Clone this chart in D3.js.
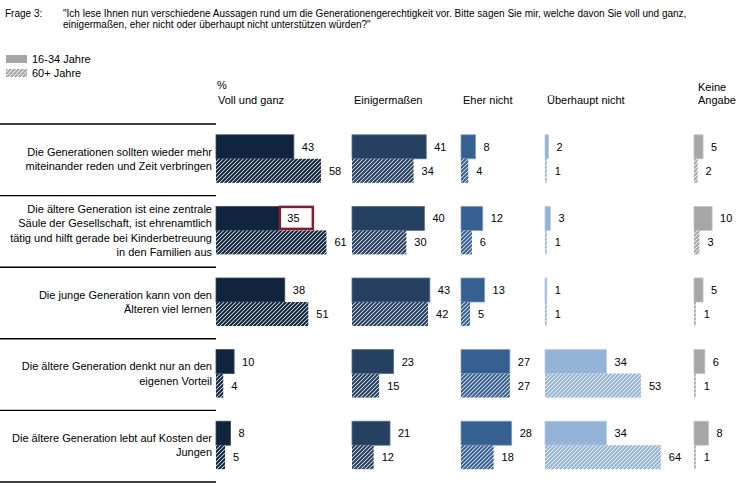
<!DOCTYPE html>
<html><head><meta charset="utf-8">
<script src="https://cdn.jsdelivr.net/npm/d3@7"></script>
<style>body{margin:0;background:#fff}svg{display:block}text{font-family:"Liberation Sans",Arial,sans-serif;fill:#000}</style>
</head><body><svg id="c" width="743" height="487"></svg>
<script>
const questionLabel = "Frage 3:";
const questionLines = ["\"Ich lese Ihnen nun verschiedene Aussagen rund um die Generationengerechtigkeit vor. Bitte sagen Sie mir, welche davon Sie voll und ganz,",
  "einigermaßen, eher nicht oder überhaupt nicht unterstützen würden?\""];
const seriesNames = ["16-34 Jahre", "60+ Jahre"];
const categories = ["Voll und ganz", "Einigermaßen", "Eher nicht", "Überhaupt nicht", "Keine Angabe"];
const statements = [
  ["Die Generationen sollten wieder mehr", "miteinander reden und Zeit verbringen"],
  ["Die ältere Generation ist eine zentrale", "Säule der Gesellschaft, ist ehrenamtlich", "tätig und hilft gerade bei Kinderbetreuung", "in den Familien aus"],
  ["Die junge Generation kann von den", "Älteren viel lernen"],
  ["Die ältere Generation denkt nur an den", "eigenen Vorteil"],
  ["Die ältere Generation lebt auf Kosten der", "Jungen"]
];
const young = [
  [43, 41, 8, 2, 5],
  [35, 40, 12, 3, 10],
  [38, 43, 13, 1, 5],
  [10, 23, 27, 34, 6],
  [8, 21, 28, 34, 8]
];
const old = [
  [58, 34, 4, 1, 2],
  [61, 30, 6, 1, 3],
  [51, 42, 5, 1, 1],
  [4, 15, 27, 53, 1],
  [5, 12, 18, 64, 1]
];
const highlighted = {row: 1, col: 0};

const colors = ["#10243E", "#254061", "#376092", "#95B3D7", "#A6A6A6"];
const strokes = ["#3a4a66", "#5a6f8e", "#7f9cc4", "#b8cce6", "#c4c4c4"];
const colX = [216, 352, 461, 545, 694];

const svg = d3.select("#c");
const defs = svg.append("defs");
colors.concat(["#A6A6A6"]).forEach((c, i) => {
  const p = defs.append("pattern").attr("id", "h" + i).attr("patternUnits", "userSpaceOnUse")
    .attr("width", 4).attr("height", 4);
  p.append("rect").attr("width", 4).attr("height", 4).attr("fill", "#fff");
  p.append("path").attr("d", "M-1,1 l2,-2 M0,4 l4,-4 M3,5 l2,-2")
    .attr("stroke", c).attr("stroke-width", 2.1);
});

// header
svg.append("text").attr("x", 5).attr("y", 17).attr("font-size", 10).text(questionLabel);
questionLines.forEach((l, i) => svg.append("text").attr("x", 63).attr("y", 17 + i * 10.5).attr("font-size", 10).text(l));

// legend
svg.append("rect").attr("x", 6).attr("y", 55).attr("width", 21).attr("height", 8).attr("fill", "#A6A6A6");
svg.append("rect").attr("x", 6).attr("y", 69).attr("width", 21).attr("height", 8).attr("fill", "url(#h5)");
svg.append("text").attr("x", 32).attr("y", 63).attr("font-size", 11).text(seriesNames[0]);
svg.append("text").attr("x", 32).attr("y", 77).attr("font-size", 11).text(seriesNames[1]);

// column headers
svg.append("text").attr("x", colX[0] + 1).attr("y", 89).attr("font-size", 11).text("%");
categories.forEach((c, i) => {
  if (i === 4) {
    svg.append("text").attr("x", colX[i] + 4).attr("y", 91).attr("font-size", 11).text("Keine");
    svg.append("text").attr("x", colX[i] + 4).attr("y", 104).attr("font-size", 11).text("Angabe");
  } else {
    svg.append("text").attr("x", colX[i] + 2).attr("y", 104).attr("font-size", 11).text(c);
  }
});

const y = d3.scaleBand().domain(d3.range(statements.length)).range([124, 482]).paddingInner(0);
const x = d3.scaleLinear().domain([0, 100]).range([0, 181]);
const barH = 24;

// separators
d3.range(statements.length + 1).forEach(i => {
  const yy = i < statements.length ? y(i) : y.range()[1];
  svg.append("line").attr("x1", 0).attr("x2", 216).attr("y1", yy).attr("y2", yy)
    .attr("stroke", "#000").attr("stroke-width", 1.4);
});

statements.forEach((lines, r) => {
  const cy = y(r) + y.bandwidth() / 2 - 1;
  const lh = 14.3;
  lines.forEach((l, k) => {
    svg.append("text").attr("x", 212).attr("y", cy + (k - (lines.length - 1) / 2) * lh + 4)
      .attr("text-anchor", "end").attr("font-size", 11).text(l);
  });
  categories.forEach((c, j) => {
    const g = svg.append("g").attr("transform", `translate(${colX[j]},0)`);
    const v1 = young[r][j], v2 = old[r][j];
    g.append("rect").attr("x", 0).attr("y", cy - barH).attr("width", x(v1)).attr("height", barH)
      .attr("fill", colors[j]).attr("stroke", strokes[j]).attr("stroke-width", 0.8);
    g.append("rect").attr("x", 0).attr("y", cy).attr("width", x(v2)).attr("height", barH)
      .attr("fill", `url(#h${j})`);
    g.append("text").attr("x", x(v1) + 8).attr("y", cy - barH / 2 + 4).attr("font-size", 11).text(v1);
    g.append("text").attr("x", x(v2) + 8).attr("y", cy + barH / 2 + 4).attr("font-size", 11).text(v2);
    if (r === highlighted.row && j === highlighted.col) {
      g.append("rect").attr("x", x(v1) + 0.5).attr("y", cy - barH + 0.5).attr("width", 33).attr("height", barH - 2)
        .attr("fill", "none").attr("stroke", "#861B2D").attr("stroke-width", 2.5);
    }
  });
});
</script></body></html>
